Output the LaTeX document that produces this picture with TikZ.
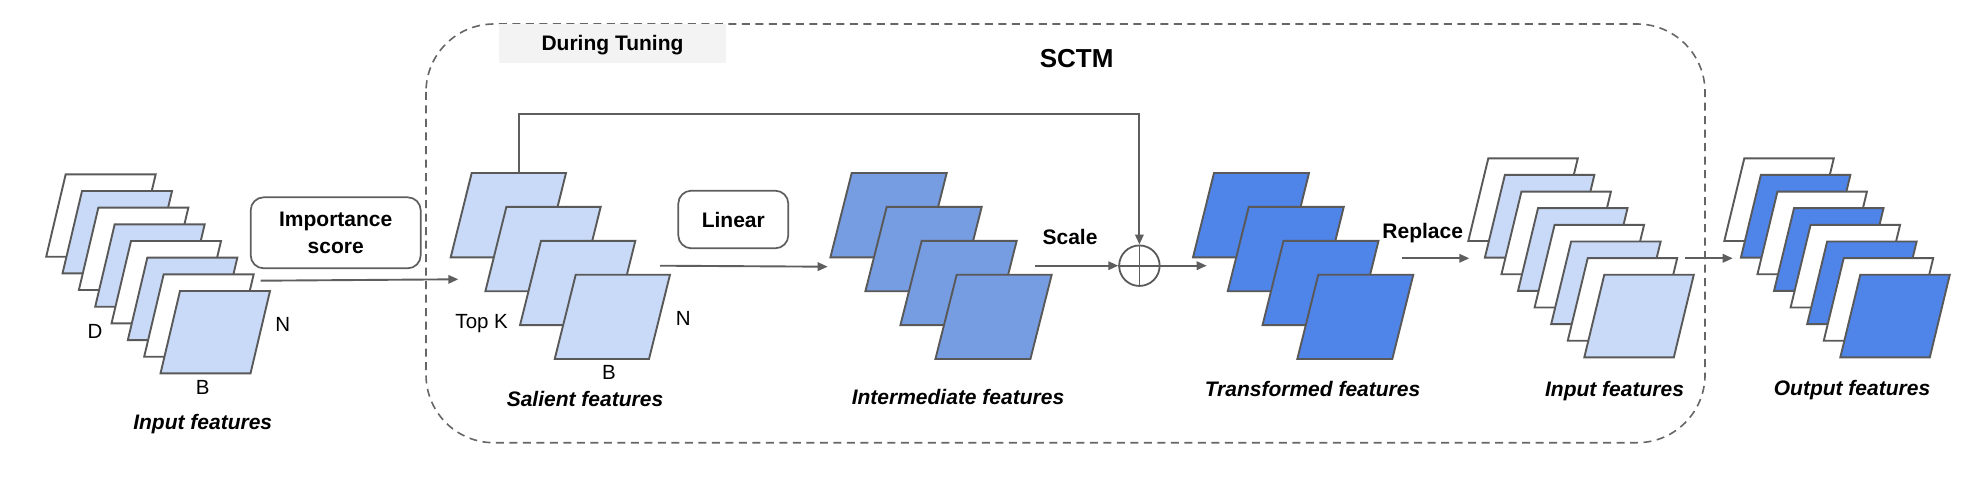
\documentclass[tikz,border=0pt]{standalone}
\usepackage{fontspec}
\setmainfont{Liberation Sans}
\usetikzlibrary{arrows.meta}
\definecolor{lb}{HTML}{C9DAF8}
\definecolor{mb}{HTML}{769CE2}
\definecolor{db}{HTML}{4F84E9}
\definecolor{edgec}{HTML}{595959}
\definecolor{linec}{HTML}{5E5E5E}
\definecolor{tg}{HTML}{F3F3F3}
\tikzset{
  pagestyle/.style={draw=edgec, line width=1.9pt, line join=miter},
  arr/.style={draw=linec, line width=1.9pt, -{Triangle[length=10pt,width=8.5pt]}},
  conn/.style={draw=linec, line width=1.8pt},
  rbox/.style={draw=linec, line width=1.7pt, rounded corners=13pt, inner sep=0pt,
    font=\fontsize{21}{26.7}\selectfont\bfseries, align=center},
  lab/.style={font=\fontsize{21}{25}\selectfont\bfseries, inner sep=0pt, text height=15pt, text depth=0pt},
  ital/.style={font=\fontsize{21}{25}\selectfont\bfseries\itshape, inner sep=0pt, text height=15pt, text depth=0pt},
  reg/.style={font=\fontsize{20.5}{24}\selectfont, inner sep=0pt, text height=14.7pt, text depth=0pt},
  dbox/.style={draw=linec!95, line width=1.6pt, dash pattern=on 8pt off 5.5pt, rounded corners=68pt},
}
\newcommand\pg[6]{% x y w h skew fill
  \draw[pagestyle, fill=#6] (#1,#2) -- ++(#3,0) -- ++(-#5,#4) -- ++(-#3,0) -- cycle;}
\begin{document}
\begin{tikzpicture}[x=1pt,y=-1pt]
\useasboundingbox (0,0) rectangle (1980,492);

% SCTM dashed frame
\draw[dbox] (426,24) rectangle (1705,442.7);
\node[fill=tg, minimum width=226.4pt, minimum height=38.7pt, inner sep=0pt] (dtbox) at (612.5,43.35) {};
\node[lab] (dt) at (612.5,43.35) {During Tuning};
\node[lab, font=\fontsize{26}{30}\selectfont\bfseries, text height=18.6pt] (sctm) at (1076.7,58.3) {SCTM};

% Input features (left)
\foreach \i in {0,...,7}{
  \ifodd\i \def\fc{lb}\else\def\fc{white}\fi
  \pgfmathsetmacro\px{65.7+16.33*\i}
  \pgfmathsetmacro\py{174.3+16.67*\i}
  \pg{\px}{\py}{90}{82.4}{19.5}{\fc}
}
\node[reg] (dl) at (95,330.7) {D};
\node[reg] (nl) at (282.7,324) {N};
\node[reg] (bl) at (202.7,386.7) {B};
\node[ital] (inl) at (202.7,421.7) {Input features};

% Importance score
\node[rbox, minimum width=170pt, minimum height=71pt] (imp) at (335.7,232.8) {Importance\\score};
\coordinate (inA) at (260.7,280.7);
\coordinate (inB) at (458.3,279.3);
\draw[arr] (inA) -- (inB);

% Salient features
\foreach \i in {0,...,3}{
  \pgfmathsetmacro\px{471.7+34.67*\i}
  \pgfmathsetmacro\py{173+33.9*\i}
  \pg{\px}{\py}{94.3}{84.3}{21}{lb}
}
\node[reg] (topk) at (481.7,321) {Top K};
\node[reg] (ns) at (683.3,318.3) {N};
\node[reg] (bs) at (609,371.7) {B};
\node[ital] (sal) at (585,399) {Salient features};

% Linear
\node[rbox, minimum width=110pt, minimum height=57.6pt] (lin) at (733.3,219.5) {Linear};
\coordinate (lA) at (660,265.7);
\coordinate (lB) at (827.7,266.7);
\draw[arr] (lA) -- (lB);

% Intermediate features
\foreach \i in {0,...,3}{
  \pgfmathsetmacro\px{851.7+35*\i}
  \pgfmathsetmacro\py{173+33.9*\i}
  \pg{\px}{\py}{95}{84.3}{21.3}{mb}
}
\node[ital] (inter) at (958,397.3) {Intermediate features};

% Scale and add
\node[draw=edgec, line width=1.8pt, circle, minimum size=40.5pt, inner sep=0pt] (plus) at (1139.4,265.7) {};
\draw[conn] (plus.north) -- (plus.south) (plus.west) -- (plus.east);
\node[lab] (scale) at (1070,237.3) {Scale};
\coordinate (sA) at (1035,265.7);
\draw[arr] (sA) -- (plus.west);
\coordinate (tB) at (1206.7,265.7);
\draw[arr] (plus.east) -- (tB);

% skip connection
\coordinate (skA) at (518.7,173);
\coordinate (skB) at (518.7,114.3);
\draw[arr] (skA) -- (skB) -| (plus.north);

% Transformed features
\foreach \i in {0,...,3}{
  \pgfmathsetmacro\px{1214+34.77*\i}
  \pgfmathsetmacro\py{173+33.9*\i}
  \pg{\px}{\py}{95}{84.3}{21}{db}
}
\node[ital] (trans) at (1312.5,389) {Transformed features};

% Replace
\node[lab] (repl) at (1422.7,231) {Replace};
\coordinate (rA) at (1401.7,258.3);
\coordinate (rB) at (1469.3,258.3);
\draw[arr] (rA) -- (rB);

% Input features (right)
\foreach \i in {0,...,7}{
  \ifodd\i \def\fc{lb}\else\def\fc{white}\fi
  \pgfmathsetmacro\px{1488.3+16.57*\i}
  \pgfmathsetmacro\py{158.3+16.63*\i}
  \pg{\px}{\py}{89.5}{82.7}{20}{\fc}
}
\node[ital] (inr) at (1614.5,389) {Input features};

% Output arrow
\coordinate (oA) at (1685,258.3);
\coordinate (oB) at (1732.7,258.3);
\draw[arr] (oA) -- (oB);

% Output features
\foreach \i in {0,...,7}{
  \ifodd\i \def\fc{db}\else\def\fc{white}\fi
  \pgfmathsetmacro\px{1744.3+16.57*\i}
  \pgfmathsetmacro\py{158.3+16.63*\i}
  \pg{\px}{\py}{89.5}{82.7}{20}{\fc}
}
\node[ital] (outl) at (1852,388.2) {Output features};
\end{tikzpicture}
\end{document}
